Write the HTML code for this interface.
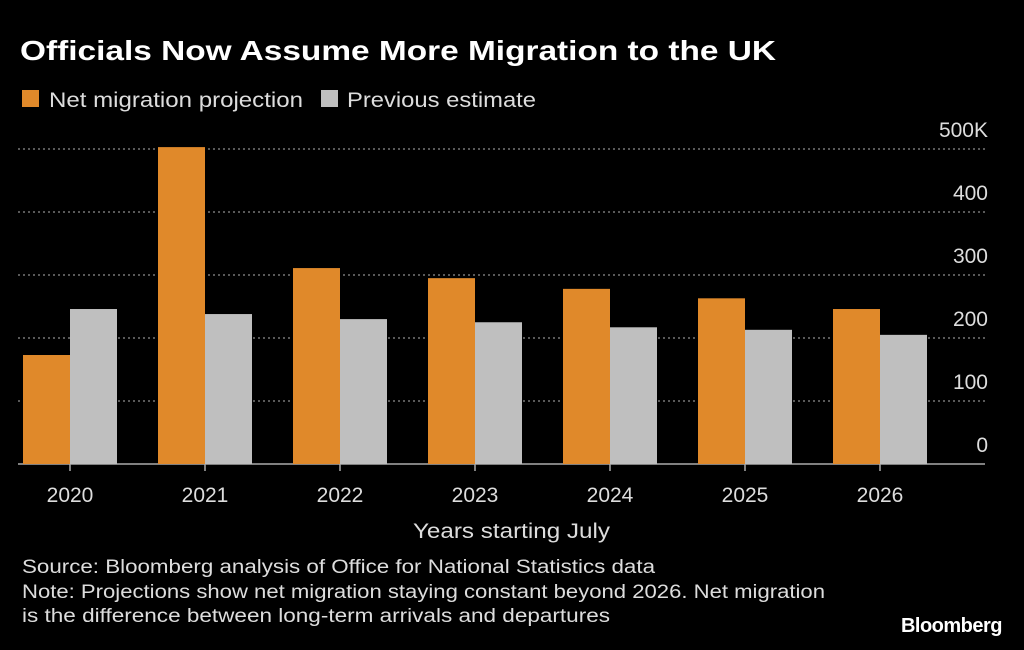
<!DOCTYPE html>
<html><head><meta charset="utf-8"><style>
body{margin:0;background:#000;width:1024px;height:645px;overflow:hidden;font-family:"Liberation Sans",sans-serif;color:#fff}
</style></head><body>
<svg width="1024" height="645" xmlns="http://www.w3.org/2000/svg" id="svg">
<rect width="1024" height="645" fill="#000"/>
<text x="20" y="60" font-size="28" font-weight="bold" fill="#fff" textLength="756" lengthAdjust="spacingAndGlyphs">Officials Now Assume More Migration to the UK</text>
<rect x="22" y="90" width="17" height="17" fill="#E0892A"/>
<text x="49" y="107" font-size="21" fill="#ddd" textLength="254" lengthAdjust="spacingAndGlyphs">Net migration projection</text>
<rect x="321" y="90" width="17" height="17" fill="#BFBFBF"/>
<text x="347" y="107" font-size="21" fill="#ddd" textLength="189" lengthAdjust="spacingAndGlyphs">Previous estimate</text>
<g id="grid"></g><g id="bars"></g><g id="xl"></g>
<text x="413" y="538" font-size="21" fill="#ddd" textLength="197" lengthAdjust="spacingAndGlyphs">Years starting July</text>
<text x="22" y="573" font-size="19" fill="#ddd" textLength="633" lengthAdjust="spacingAndGlyphs">Source: Bloomberg analysis of Office for National Statistics data</text>
<text x="22" y="598" font-size="19" fill="#ddd" textLength="803" lengthAdjust="spacingAndGlyphs">Note: Projections show net migration staying constant beyond 2026. Net migration</text>
<text x="22" y="622" font-size="19" fill="#ddd" textLength="588" lengthAdjust="spacingAndGlyphs">is the difference between long-term arrivals and departures</text>
<text x="1002" y="632" font-size="20" font-weight="bold" fill="#fff" text-anchor="end" letter-spacing="-0.5">Bloomberg</text>
</svg>
<script>
const categories=["2020","2021","2022","2023","2024","2025","2026"];
const projection=[173,503,311,295,278,263,246];
const previous=[246,238,230,225,217,213,205];
const ticks=[0,100,200,300,400,500];
const tickLabels=["0","100","200","300","400","500K"];
const NS="http://www.w3.org/2000/svg";
const y0=464,pxPer=0.63;
const y=v=>y0-v*pxPer;
const x=i=>70+i*135;
const bw=47;
function mk(t,a,p){const e=document.createElementNS(NS,t);for(const k in a)e.setAttribute(k,a[k]);p.appendChild(e);return e;}
const g=document.getElementById('grid');
ticks.forEach((t,i)=>{
 const l=mk('line',{x1:18,x2:985,y1:y(t),y2:y(t),stroke:t===0?'#aaa':'#777','stroke-width':1.5,'stroke-dasharray':t===0?'none':'2,3'},g);
 
 
 const tx=mk('text',{x:988,y:y(t)-12,'font-size':21,fill:'#ddd','text-anchor':'end'},g);
 tx.textContent=tickLabels[i];
 
 
});
const b=document.getElementById('bars'),xl=document.getElementById('xl');
categories.forEach((c,i)=>{
 const r1=mk('rect',{x:x(i)-bw,y:y(projection[i]),width:bw,height:y0-y(projection[i]),fill:'#E0892A'},b);
 
 
 const r2=mk('rect',{x:x(i),y:y(previous[i]),width:bw,height:y0-y(previous[i]),fill:'#BFBFBF'},b);
 
 
 const tk=mk('line',{x1:x(i),x2:x(i),y1:y0,y2:y0+7,stroke:'#aaa','stroke-width':1.5},xl);
 
 
 const t=mk('text',{x:x(i),y:502,'font-size':21,fill:'#ddd','text-anchor':'middle'},xl);
 t.textContent=c;
 
 
});
</script>
</body></html>
